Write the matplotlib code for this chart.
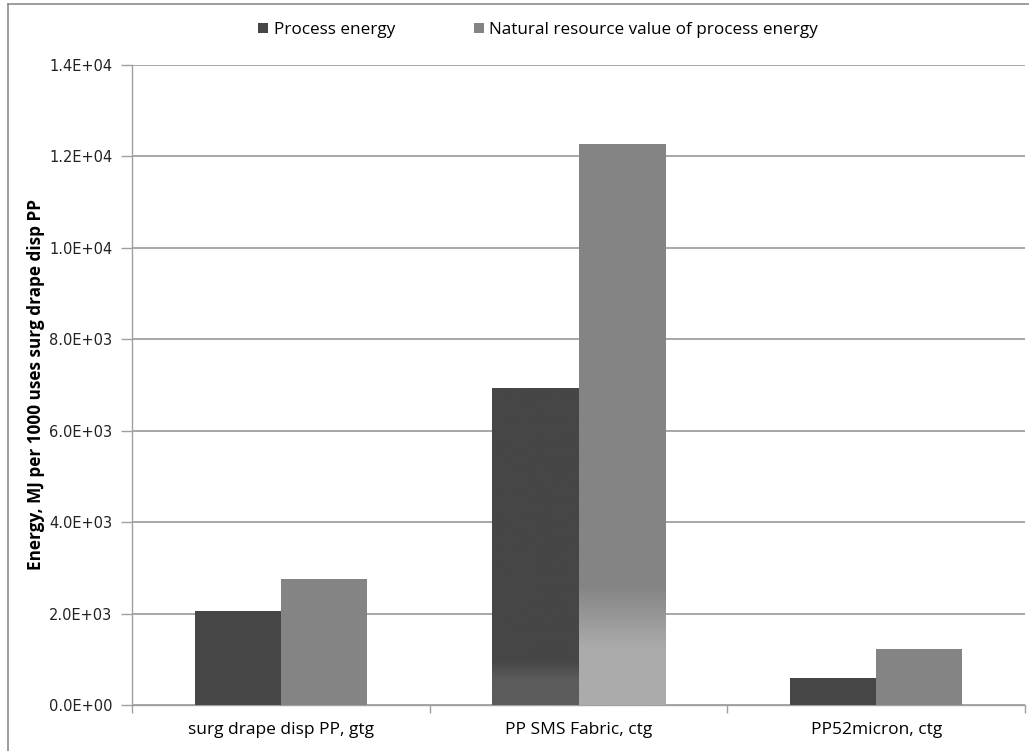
import matplotlib
matplotlib.use("Agg")
import matplotlib.pyplot as plt
import numpy as np
from matplotlib.ticker import FuncFormatter, FixedLocator
from matplotlib.lines import Line2D
from matplotlib.colors import LinearSegmentedColormap

categories = ["surg drape disp PP, gtg", "PP SMS Fabric, ctg", "PP52micron, ctg"]
series_names = ["Process energy", "Natural resource value of process energy"]
process_energy = [2060, 6930, 590]
natural_resource = [2760, 12280, 1225]
colors = ["#464646", "#848484"]
y_ticks = [0, 2000, 4000, 6000, 8000, 10000, 12000, 14000]
y_label = "Energy, MJ per 1000 uses surg drape disp PP"

narrow = ["Open Sans", "DejaVu Sans"]

fig = plt.figure(figsize=(10.29, 7.51), dpi=100)
ax = fig.add_axes([132/1029, 1-705/751, (1025-132)/1029, (705-65)/751])

x = np.arange(len(categories))
w = 0.29
series = [process_energy, natural_resource]
bar_groups = []
for i, (vals, c, name) in enumerate(zip(series, colors, series_names)):
    bars = ax.bar(x + (i - 0.5) * w, vals, width=w, color=c, label=name, zorder=3,
                  linewidth=0)
    bar_groups.append(bars)

ax.set_xlim(-0.5, len(categories) - 0.5)
ax.set_ylim(0, 14000)

# lighter shading at the bottom of the tall middle-group bars (rendering effect in the reference)
grad_specs = [(bar_groups[0][1], "#464646", "#5c5c5c", 550, 950),
              (bar_groups[1][1], "#848484", "#ababab", 1250, 2600)]
for bar, top_c, bot_c, lo, hi in grad_specs:
    x0 = bar.get_x()
    x1 = x0 + bar.get_width()
    h = bar.get_height()
    yy = np.linspace(0, h, 400)
    t = np.clip((yy - lo) / (hi - lo), 0, 1)
    cmap = LinearSegmentedColormap.from_list("g", [bot_c, top_c])
    im = ax.imshow(t[:, None], cmap=cmap, vmin=0, vmax=1, origin="lower",
                   extent=[x0, x1, 0, h], aspect="auto", zorder=3.5, interpolation="bilinear")
    im.set_clip_path(bar)
ax.set_xlim(-0.5, len(categories) - 0.5)
ax.set_ylim(0, 14000)

ax.yaxis.set_major_locator(FixedLocator(y_ticks))
ax.yaxis.set_major_formatter(FuncFormatter(lambda v, p: f"{v:.1E}"))
ax.grid(axis="y", color="#a0a0a0", linewidth=1.3, zorder=0)
ax.set_axisbelow(True)

for s in ["top", "right"]:
    ax.spines[s].set_visible(False)
for s in ["left", "bottom"]:
    ax.spines[s].set_color("#a0a0a0")
    ax.spines[s].set_linewidth(1.0)

ax.set_xticks(x)
ax.set_xticklabels(categories, fontsize=12.5, family=narrow)
ax.tick_params(axis="x", length=0, pad=12)
ax.set_xticks(np.arange(len(categories) + 1) - 0.5, minor=True)
ax.tick_params(axis="x", which="minor", length=6, color="#a0a0a0", width=1.0, direction="out")
ax.tick_params(axis="y", length=8, color="#a0a0a0", width=1.0, labelsize=10.5,
               labelcolor="#222222", pad=6)
for t in ax.get_yticklabels():
    t.set_family("DejaVu Sans")

ax.set_ylabel(y_label, fontsize=12.3, fontweight="bold", family=narrow, labelpad=3)

leg = fig.legend(loc="center", bbox_to_anchor=(538/1029, 1-30/751), ncol=2, frameon=False,
                 prop={"family": narrow, "size": 12.3}, handlelength=0.6, handleheight=0.6,
                 handletextpad=0.3, columnspacing=4.6)

# outer frame lines (left and top)
fig.add_artist(Line2D([8/1029, 8/1029], [0, 1-4/751], transform=fig.transFigure,
                      color="#8c8c8c", linewidth=1.2))
fig.add_artist(Line2D([8/1029, 1], [1-4/751, 1-4/751], transform=fig.transFigure,
                      color="#8c8c8c", linewidth=1.2))

fig.savefig("out.png", dpi=100, facecolor="white")
